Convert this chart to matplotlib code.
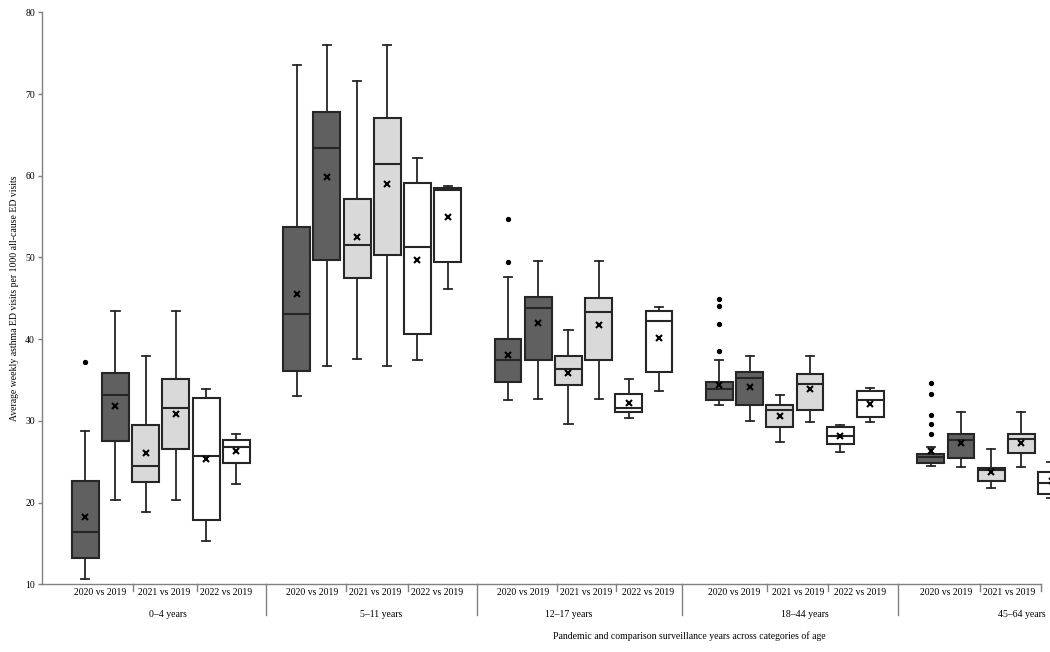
import matplotlib
matplotlib.use("Agg")
import matplotlib.pyplot as plt

plt.rcParams['font.family'] = ['Liberation Serif', 'DejaVu Serif']
plt.rcParams['font.size'] = 7

# categories
age_groups = ['0–4 years', '5–11 years', '12–17 years', '18–44 years', '45–64 years']
pair_labels = ['2020 vs 2019', '2021 vs 2019', '2022 vs 2019']

# box stats, order per age group: 2020, 2019, 2021, 2019, 2022, 2019
# (last group is cut off at the right edge of the picture)
whislo = [10.6, 20.3, 18.8, 20.3, 15.3, 22.3,
          33.0, 36.7, 37.6, 36.7, 37.4, 46.1,
          32.6, 32.7, 29.6, 32.7, 30.4, 33.6,
          31.9, 30.0, 27.4, 29.9, 26.2, 29.9,
          24.5, 24.3, 21.8, 24.3, 20.5]
q1 = [13.2, 27.5, 22.5, 26.6, 17.9, 24.9,
      36.1, 49.7, 47.5, 50.3, 40.6, 49.4,
      34.7, 37.5, 34.4, 37.5, 31.1, 36.0,
      32.5, 32.0, 29.3, 31.3, 27.2, 30.5,
      24.8, 25.4, 22.7, 26.1, 21.1]
medians = [16.4, 33.2, 24.5, 31.6, 25.7, 26.8,
           43.1, 63.4, 51.5, 61.4, 51.3, 58.2,
           37.5, 43.8, 36.4, 43.3, 31.6, 42.2,
           33.9, 35.2, 31.3, 34.5, 28.2, 32.5,
           25.6, 27.7, 24.0, 27.8, 22.4]
q3 = [22.7, 35.9, 29.5, 35.1, 32.8, 27.7,
      53.7, 67.8, 57.2, 67.1, 59.1, 58.5,
      40.0, 45.1, 37.9, 45.0, 33.3, 43.4,
      34.7, 36.0, 31.9, 35.7, 29.3, 33.7,
      26.0, 28.4, 24.2, 28.4, 23.8]
whishi = [28.8, 43.5, 37.9, 43.5, 33.9, 28.4,
          73.5, 76.0, 71.6, 76.0, 62.2, 58.7,
          47.6, 49.6, 41.1, 49.6, 35.1, 43.9,
          37.5, 37.9, 33.2, 37.9, 29.5, 34.0,
          26.8, 31.1, 26.5, 31.1, 25.0]
means = [18.2, 31.8, 26.1, 30.8, 25.3, 26.3,
         45.5, 59.8, 52.5, 59.0, 49.7, 55.0,
         38.1, 42.0, 35.8, 41.7, 32.2, 40.1,
         34.4, 34.2, 30.6, 33.9, 28.2, 32.1,
         26.3, 27.3, 23.7, 27.3, 22.7]
outliers = {0: [37.2],
            12: [49.5, 54.7],
            18: [38.6, 41.8, 44.1, 44.9],
            24: [28.4, 29.6, 30.7, 33.3, 34.6]}

fills = ['#606060', '#606060', '#d9d9d9', '#d9d9d9', '#ffffff', '#ffffff']
edge = '#262626'
axis_grey = '#808080'

# separator ticks and label spots along x (in box-slot units)
short_seps = [1.58, 3.70, 8.63, 10.69, 15.62, 17.57, 22.57, 24.59, 29.63, 31.65]
long_seps = [5.98, 12.97, 19.76, 26.91]
group_label_x = [2.75, 9.8, 16.02, 23.83, 31.0]
pair_offsets = [0.5, 2.6, 4.65]

positions = [7 * g + k for g in range(5) for k in range(6)][:len(medians)]
stats = []
for i in range(len(medians)):
    stats.append(dict(whislo=whislo[i], q1=q1[i], med=medians[i], q3=q3[i],
                      whishi=whishi[i], mean=means[i], fliers=outliers.get(i, [])))

fig = plt.figure(figsize=(10.5, 6.52), dpi=100)
ax = fig.add_axes([42 / 1050, 1 - 584.3 / 652, (1041 - 42) / 1050, (584.3 - 12.3) / 652])

art = ax.bxp(stats, positions=positions, widths=0.89, capwidths=0.27,
             patch_artist=True, showmeans=True, manage_ticks=False,
             boxprops=dict(edgecolor=edge, linewidth=1.5),
             whiskerprops=dict(color=edge, linewidth=1.3),
             capprops=dict(color=edge, linewidth=1.3),
             medianprops=dict(color=edge, linewidth=1.5),
             meanprops=dict(marker='x', markeredgecolor='black', markersize=5,
                            markeredgewidth=1.5),
             flierprops=dict(marker='o', markerfacecolor='black',
                             markeredgecolor='black', markersize=2.8))
for i, b in enumerate(art['boxes']):
    b.set_facecolor(fills[i % 6])
for key in art:
    for a in art[key]:
        a.set_clip_on(False)

ax.set_xlim(-1.434, 31.65)
ax.set_ylim(10, 80)
ax.set_yticks(range(10, 81, 10))
ax.set_xticks([])
ax.spines['top'].set_visible(False)
ax.spines['right'].set_visible(False)
for s in ['left', 'bottom']:
    ax.spines[s].set_color(axis_grey)
    ax.spines[s].set_linewidth(1)
ax.tick_params(axis='y', length=3, width=1, color=axis_grey, pad=2, labelsize=7)

tr = ax.get_xaxis_transform()
for x in short_seps:
    ax.plot([x, x], [0, -0.011], transform=tr, color=axis_grey, lw=1, clip_on=False)
for x in long_seps:
    ax.plot([x, x], [0, -0.054], transform=tr, color=axis_grey, lw=1, clip_on=False)

for g, name in enumerate(age_groups):
    for k, lab in enumerate(pair_labels):
        x = 7 * g + pair_offsets[k]
        if x < 31.2:
            ax.text(x, -0.0147, lab, transform=tr, ha='center', va='center', fontsize=7)
    ax.text(group_label_x[g], -0.052, name, transform=tr, ha='center', va='center', fontsize=7)

fig.text(689.5 / 1050, 1 - 636 / 652,
         'Pandemic and comparison surveillance years across categories of age',
         ha='center', va='center', fontsize=7)
fig.text(15 / 1050, 1 - 298 / 652,
         'Average weekly asthma ED visits per 1000 all-cause ED visits',
         rotation=90, ha='center', va='center', fontsize=7)

fig.savefig('out.png', dpi=100)
